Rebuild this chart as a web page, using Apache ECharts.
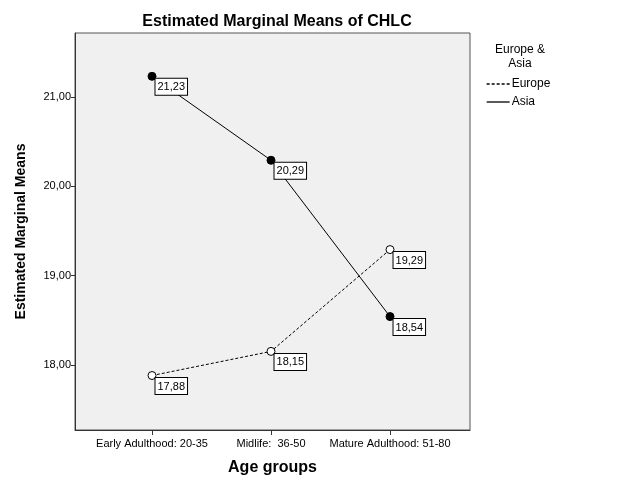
<!DOCTYPE html>
<html>
<head>
<meta charset="utf-8">
<script src="https://cdn.jsdelivr.net/npm/echarts@6/dist/echarts.min.js"></script>
<style>
  html, body { margin: 0; padding: 0; background: #fff; }
  #main { width: 626px; height: 501px; }
</style>
</head>
<body>
<div id="main"></div>
<script>
// categories and means
var ageGroups = ['Early Adulthood: 20-35', 'Midlife:  36-50', 'Mature Adulthood: 51-80'];
var europe = [17.88, 18.15, 19.29];
var asia = [21.23, 20.29, 18.54];
var yTicks = [18, 19, 20, 21];

function comma(v) {
    return v.toFixed(2).replace('.', ',');
}
function pairs(arr) {
    return arr.map(function (v, i) { return [i + 1, v]; });
}

var font = 'Arial, "Liberation Sans", sans-serif';

var boxLabel = {
    show: true,
    position: [8, 7],
    formatter: function (p) { return comma(p.value[1]); },
    color: '#000',
    fontSize: 11,
    fontFamily: font,
    backgroundColor: '#fff',
    borderColor: '#000',
    borderWidth: 1,
    padding: [3, 2, 2, 2]
};

var myChart = echarts.init(document.getElementById('main'));
myChart.setOption({
    animation: false,
    title: [{
        text: 'Estimated Marginal Means of CHLC',
        left: 272,
        top: 9,
        textAlign: 'center',
        textStyle: { fontSize: 16, fontWeight: 'bold', fontFamily: font, color: '#000' }
    }, {
        text: 'Europe &\nAsia',
        left: 515,
        top: 38,
        textAlign: 'center',
        textStyle: { fontSize: 12, fontWeight: 'normal', fontFamily: font, color: '#000', lineHeight: 14, align: 'center' }
    }],
    legend: {
        orient: 'vertical',
        left: 481,
        top: 73,
        itemWidth: 23,
        itemHeight: 12,
        itemGap: 6,
        itemStyle: { opacity: 0 },
        lineStyle: { width: 1.3 },
        textStyle: { fontSize: 12, fontFamily: font, color: '#000', padding: [0, 0, 0, -3] },
        data: ['Europe', 'Asia']
    },
    grid: {
        left: 75, right: 156, top: 33, bottom: 71,
        show: true,
        backgroundColor: '#f0f0f0',
        borderColor: '#555',
        borderWidth: 1
    },
    xAxis: {
        type: 'value',
        min: 0.353,
        max: 3.672,
        name: 'Age groups',
        nameLocation: 'middle',
        nameGap: 30,
        nameTextStyle: { fontSize: 16, fontWeight: 'bold', fontFamily: font, color: '#000' },
        axisLine: { show: true, lineStyle: { color: '#333' } },
        axisTick: { show: true, length: 5, customValues: [1, 2, 3], lineStyle: { color: '#333' } },
        axisLabel: {
            customValues: [1, 2, 3],
            formatter: function (v) { return ageGroups[Math.round(v) - 1]; },
            fontSize: 11, fontFamily: font, color: '#000', margin: 8
        },
        splitLine: { show: false }
    },
    yAxis: {
        type: 'value',
        min: 17.27,
        max: 21.715,
        name: 'Estimated Marginal Means',
        nameLocation: 'middle',
        nameGap: 47,
        nameTextStyle: { fontSize: 14, fontWeight: 'bold', fontFamily: font, color: '#000' },
        axisLine: { show: true, lineStyle: { color: '#333' } },
        axisTick: { show: true, length: 4, customValues: yTicks, lineStyle: { color: '#333' } },
        axisLabel: {
            customValues: yTicks,
            formatter: comma,
            fontSize: 11, fontFamily: font, color: '#000', margin: 4
        },
        splitLine: { show: false }
    },
    series: [{
        name: 'Europe',
        type: 'line',
        data: pairs(europe),
        symbol: 'circle',
        symbolSize: 8,
        itemStyle: { color: '#fff', borderColor: '#000', borderWidth: 1 },
        lineStyle: { color: '#000', width: 1, type: [3, 2] },
        label: boxLabel,
        z: 3
    }, {
        name: 'Asia',
        type: 'line',
        data: pairs(asia),
        symbol: 'circle',
        symbolSize: 8,
        itemStyle: { color: '#000', borderColor: '#000', borderWidth: 1 },
        lineStyle: { color: '#000', width: 1 },
        label: boxLabel,
        z: 3
    }]
});
</script>
</body>
</html>
